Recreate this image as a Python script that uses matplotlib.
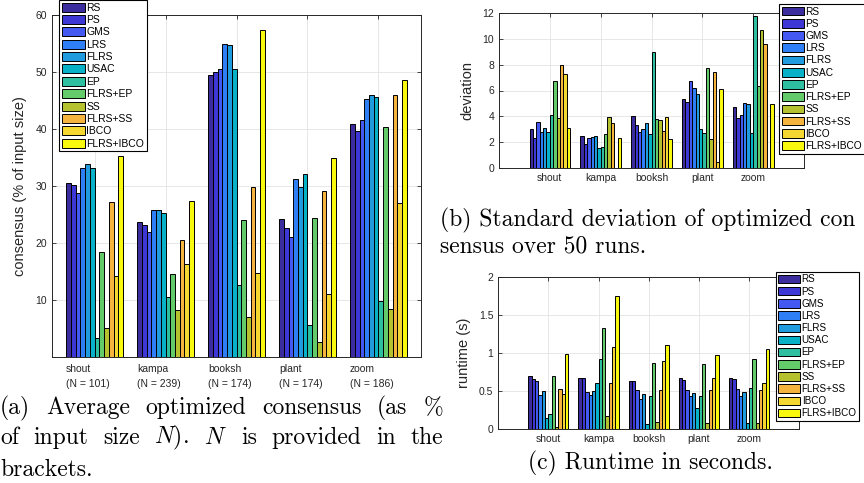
import numpy as np
import matplotlib
matplotlib.use("Agg")
import matplotlib.pyplot as plt
import matplotlib.transforms as mtransforms

plt.rcParams['font.family'] = ['Liberation Sans', 'DejaVu Sans']
plt.rcParams['mathtext.fontset'] = 'cm'

# methods (series) and datasets (groups)
methods = ['RS', 'PS', 'GMS', 'LRS', 'FLRS', 'USAC', 'EP', 'FLRS+EP',
           'SS', 'FLRS+SS', 'IBCO', 'FLRS+IBCO']
colors = ['#3C2D9E', '#3D37D6', '#4459F2', '#2E7FF6', '#209CDE', '#07B2C9',
          '#2DBF9F', '#64CB6A', '#B6C12F', '#F5B43E', '#F4D731', '#F8F90F']
datasets = ['shout', 'kampa', 'booksh', 'plant', 'zoom']
sizes = [101, 239, 174, 174, 186]

# (a) consensus in % of input size, one row per dataset
consensus = np.array([
    [30.5, 30.2, 28.8, 33.2, 33.8, 33.1, 3.4, 18.4, 5.1, 27.2, 14.2, 35.2],
    [23.6, 23.2, 21.9, 25.8, 25.8, 25.2, 10.6, 14.5, 8.2, 20.5, 16.3, 27.4],
    [49.5, 50.0, 50.6, 55.0, 54.8, 50.5, 12.6, 24.1, 7.1, 29.8, 14.7, 57.3],
    [24.2, 22.6, 21.1, 31.3, 29.9, 32.1, 5.7, 24.4, 2.6, 29.2, 11.0, 35.0],
    [40.9, 39.6, 41.6, 45.3, 46.0, 45.6, 9.9, 40.4, 8.5, 46.0, 27.0, 48.6],
])

# (b) standard deviation over 50 runs
deviation = np.array([
    [3.0, 2.36, 3.55, 2.78, 3.1, 2.78, 4.09, 6.75, 3.88, 7.94, 7.25, 3.1],
    [2.52, 1.85, 2.34, 2.41, 2.49, 1.57, 1.64, 2.64, 3.98, 3.47, 0.03, 2.31],
    [4.03, 3.31, 2.83, 3.06, 3.47, 2.64, 8.99, 3.80, 3.70, 2.88, 3.93, 2.26],
    [5.33, 5.10, 6.73, 6.18, 5.75, 3.0, 2.7, 7.75, 2.23, 7.45, 0.51, 6.11],
    [4.75, 3.9, 4.09, 5.01, 4.98, 2.7, 11.74, 6.32, 10.69, 9.61, 0.03, 4.93],
])

# (c) runtime in seconds
runtime = np.array([
    [0.70, 0.66, 0.63, 0.44, 0.50, 0.15, 0.20, 0.69, 0.03, 0.52, 0.46, 0.98],
    [0.67, 0.675, 0.49, 0.44, 0.50, 0.61, 0.92, 1.32, 0.165, 0.60, 1.075, 1.74],
    [0.63, 0.63, 0.51, 0.39, 0.46, 0.065, 0.43, 0.87, 0.088, 0.51, 0.895, 1.10],
    [0.673, 0.65, 0.51, 0.43, 0.47, 0.27, 0.43, 0.86, 0.08, 0.51, 0.665, 0.97],
    [0.665, 0.655, 0.525, 0.43, 0.48, 0.075, 0.535, 0.915, 0.08, 0.51, 0.61, 1.045],
])

W, H = 864, 483
fig = plt.figure(figsize=(W / 100, H / 100), dpi=100)

def px_axes(l, t, r, b):
    return fig.add_axes([l / W, 1 - b / H, (r - l) / W, (b - t) / H])

axc = '#262626'
nser = len(methods)
bw = 0.8 / nser
x = np.arange(1, len(datasets) + 1)

def grouped(ax, data):
    bars = []
    for j in range(nser):
        off = (j - (nser - 1) / 2) * bw
        b = ax.bar(x + off, data[:, j], width=bw, color=colors[j],
                   edgecolor='black', linewidth=0.7, zorder=3)
        bars.append(b)
    ax.grid(True, color='#E3E3E3', linewidth=0.6, zorder=0)
    ax.set_axisbelow(True)
    ax.set_xticks(x)
    ax.tick_params(direction='in', top=True, right=True, length=3,
                   labelsize=7.5, colors=axc, width=0.6)
    for s in ax.spines.values():
        s.set_color(axc)
        s.set_linewidth(0.7)
    return bars

def add_legend(bars, l, t, fs=7.5):
    leg = fig.legend(bars, methods, loc='upper left',
                     bbox_to_anchor=(l / W, 1 - t / H), bbox_transform=fig.transFigure,
                     fontsize=fs, frameon=True, fancybox=False, borderpad=0.25,
                     handlelength=2.2, handleheight=0.95, handletextpad=0.15,
                     labelspacing=0.22, borderaxespad=0)
    leg.get_frame().set_edgecolor('black')
    leg.get_frame().set_linewidth(0.8)
    leg.get_frame().set_alpha(1)
    return leg

# (a)
ax1 = px_axes(52, 15, 421, 357)
b1 = grouped(ax1, consensus)
ax1.set_xlim(0.4, 5.6)
ax1.set_ylim(0, 60)
ax1.set_yticks([10, 20, 30, 40, 50, 60])
ax1.set_xticklabels([])
ax1.set_ylabel('consensus (% of input size)', fontsize=10.5, color=axc, labelpad=6)
tr = mtransforms.blended_transform_factory(ax1.transData, ax1.transAxes)
for xi, name, n in zip(x, datasets, sizes):
    ax1.text(xi - 0.4, -0.02, f'{name}\n(N = {n})', transform=tr, ha='left', va='top',
             fontsize=7.5, color=axc, linespacing=1.6)
add_legend(b1, 59, 0)

# (b)
ax2 = px_axes(499, 12.7, 804, 168.3)
b2 = grouped(ax2, deviation)
ax2.set_xlim(0, 6)
ax2.set_ylim(0, 12)
ax2.set_yticks(np.arange(0, 13, 2))
ax2.set_xticklabels(datasets)
ax2.set_ylabel('deviation', fontsize=10.5, color=axc, labelpad=6)
add_legend(b2, 779, 4, 7.3)

# (c)
ax3 = px_axes(498.3, 276.7, 799, 429)
b3 = grouped(ax3, runtime)
ax3.set_xlim(0, 6)
ax3.set_ylim(0, 2)
ax3.set_yticks([0, 0.5, 1, 1.5, 2])
ax3.set_yticklabels(['0', '0.5', '1', '1.5', '2'])
ax3.set_xticklabels(datasets)
ax3.set_ylabel('runtime (s)', fontsize=10.5, color=axc, labelpad=6)
add_legend(b3, 776, 272, 7.1)

# captions (Computer Modern, justified like LaTeX)
cap = dict(family=['cmr10', 'DejaVu Serif'], fontsize=17, color='black',
           va='center', ha='left')
renderer = fig.canvas.get_renderer()

def justified(words, x0, x1, y):
    items = [fig.text(0, 1 - y / H, w, **cap) for w in words]
    widths = [t.get_window_extent(renderer).width for t in items]
    gap = (x1 - x0 - sum(widths)) / (len(words) - 1)
    pos = x0
    for t, w in zip(items, widths):
        t.set_x(pos / W)
        pos += w + gap

justified(['(a)', 'Average', 'optimized', 'consensus', '(as', '%'], 0, 443, 408)
justified(['of', 'input', 'size', '$N$).', '$N$', 'is', 'provided', 'in', 'the'],
          0, 443, 438)
fig.text(0, 1 - 470 / H, 'brackets.', **cap)
fig.text(440 / W, 1 - 220 / H, '(b) Standard deviation of optimized con', **cap)
fig.text(440 / W, 1 - 246 / H, 'sensus over 50 runs.', **cap)
fig.text(650 / W, 1 - 463 / H, '(c) Runtime in seconds.',
         **{**cap, 'ha': 'center'})

fig.savefig('out.png', dpi=100)
